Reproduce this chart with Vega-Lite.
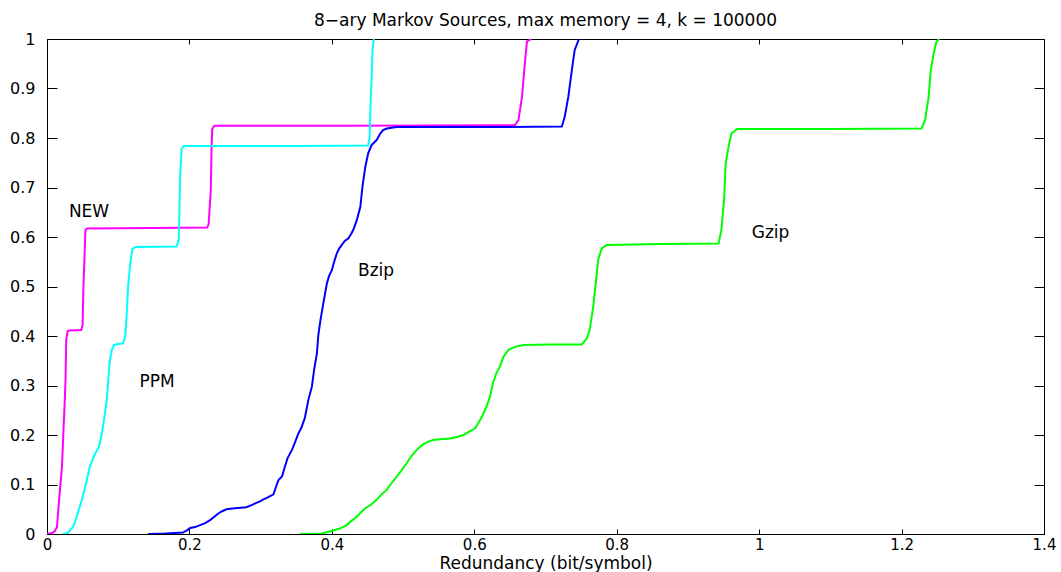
{
  "$schema": "https://vega.github.io/schema/vega-lite/v6.json",
  "autosize": {"type": "none"},
  "width": 997,
  "height": 495,
  "padding": {"left": 47, "top": 39, "right": 17, "bottom": 38},
  "background": "white",
  "title": {"text": "8−ary Markov Sources, max memory = 4, k = 100000", "font": "DejaVu Sans", "fontSize": 17, "fontWeight": "normal", "color": "black", "offset": 1},
  "config": {
    "view": {"stroke": "black", "strokeWidth": 1},
    "axis": {"domainColor": "black", "tickColor": "black", "labelFont": "DejaVu Sans", "labelFontSize": 16, "labelColor": "black", "titleFont": "DejaVu Sans", "titleFontSize": 17, "titleFontWeight": "normal", "titleColor": "black", "grid": false, "labelFlush": false, "labelOverlap": false},
    "axisX": {"tickSize": -5},
    "axisY": {"tickSize": -10}
  },
  "datasets": {
    "curves": [
      {"series": "NEW", "x": 0, "y": 0},
      {"series": "NEW", "x": 0.007, "y": 0.002},
      {"series": "NEW", "x": 0.011, "y": 0.006},
      {"series": "NEW", "x": 0.014, "y": 0.014},
      {"series": "NEW", "x": 0.017, "y": 0.069},
      {"series": "NEW", "x": 0.021, "y": 0.136},
      {"series": "NEW", "x": 0.023, "y": 0.204},
      {"series": "NEW", "x": 0.025, "y": 0.271},
      {"series": "NEW", "x": 0.026, "y": 0.311},
      {"series": "NEW", "x": 0.027, "y": 0.392},
      {"series": "NEW", "x": 0.029, "y": 0.41},
      {"series": "NEW", "x": 0.032, "y": 0.411},
      {"series": "NEW", "x": 0.048, "y": 0.412},
      {"series": "NEW", "x": 0.05, "y": 0.422},
      {"series": "NEW", "x": 0.051, "y": 0.493},
      {"series": "NEW", "x": 0.053, "y": 0.574},
      {"series": "NEW", "x": 0.054, "y": 0.614},
      {"series": "NEW", "x": 0.056, "y": 0.617},
      {"series": "NEW", "x": 0.145, "y": 0.618},
      {"series": "NEW", "x": 0.225, "y": 0.619},
      {"series": "NEW", "x": 0.227, "y": 0.626},
      {"series": "NEW", "x": 0.23, "y": 0.695},
      {"series": "NEW", "x": 0.231, "y": 0.776},
      {"series": "NEW", "x": 0.232, "y": 0.818},
      {"series": "NEW", "x": 0.235, "y": 0.825},
      {"series": "NEW", "x": 0.425, "y": 0.825},
      {"series": "NEW", "x": 0.657, "y": 0.826},
      {"series": "NEW", "x": 0.662, "y": 0.836},
      {"series": "NEW", "x": 0.667, "y": 0.883},
      {"series": "NEW", "x": 0.671, "y": 0.951},
      {"series": "NEW", "x": 0.674, "y": 0.995},
      {"series": "NEW", "x": 0.68, "y": 1.0},

      {"series": "PPM", "x": 0.022, "y": 0},
      {"series": "PPM", "x": 0.029, "y": 0.002},
      {"series": "PPM", "x": 0.037, "y": 0.015},
      {"series": "PPM", "x": 0.042, "y": 0.036},
      {"series": "PPM", "x": 0.049, "y": 0.069},
      {"series": "PPM", "x": 0.055, "y": 0.103},
      {"series": "PPM", "x": 0.06, "y": 0.136},
      {"series": "PPM", "x": 0.065, "y": 0.154},
      {"series": "PPM", "x": 0.069, "y": 0.166},
      {"series": "PPM", "x": 0.073, "y": 0.176},
      {"series": "PPM", "x": 0.077, "y": 0.203},
      {"series": "PPM", "x": 0.08, "y": 0.23},
      {"series": "PPM", "x": 0.084, "y": 0.271},
      {"series": "PPM", "x": 0.086, "y": 0.311},
      {"series": "PPM", "x": 0.088, "y": 0.347},
      {"series": "PPM", "x": 0.091, "y": 0.372},
      {"series": "PPM", "x": 0.094, "y": 0.382},
      {"series": "PPM", "x": 0.1, "y": 0.384},
      {"series": "PPM", "x": 0.107, "y": 0.385},
      {"series": "PPM", "x": 0.11, "y": 0.402},
      {"series": "PPM", "x": 0.112, "y": 0.446},
      {"series": "PPM", "x": 0.114, "y": 0.503},
      {"series": "PPM", "x": 0.117, "y": 0.547},
      {"series": "PPM", "x": 0.12, "y": 0.576},
      {"series": "PPM", "x": 0.125, "y": 0.58},
      {"series": "PPM", "x": 0.182, "y": 0.581},
      {"series": "PPM", "x": 0.185, "y": 0.594},
      {"series": "PPM", "x": 0.186, "y": 0.655},
      {"series": "PPM", "x": 0.187, "y": 0.725},
      {"series": "PPM", "x": 0.189, "y": 0.778},
      {"series": "PPM", "x": 0.192, "y": 0.784},
      {"series": "PPM", "x": 0.355, "y": 0.784},
      {"series": "PPM", "x": 0.451, "y": 0.785},
      {"series": "PPM", "x": 0.453, "y": 0.8},
      {"series": "PPM", "x": 0.454, "y": 0.857},
      {"series": "PPM", "x": 0.456, "y": 0.927},
      {"series": "PPM", "x": 0.457, "y": 0.978},
      {"series": "PPM", "x": 0.459, "y": 1.0},

      {"series": "Bzip", "x": 0.142, "y": 0},
      {"series": "Bzip", "x": 0.166, "y": 0.001},
      {"series": "Bzip", "x": 0.191, "y": 0.003},
      {"series": "Bzip", "x": 0.197, "y": 0.008},
      {"series": "Bzip", "x": 0.201, "y": 0.012},
      {"series": "Bzip", "x": 0.208, "y": 0.014},
      {"series": "Bzip", "x": 0.215, "y": 0.018},
      {"series": "Bzip", "x": 0.222, "y": 0.022},
      {"series": "Bzip", "x": 0.229, "y": 0.028},
      {"series": "Bzip", "x": 0.234, "y": 0.034},
      {"series": "Bzip", "x": 0.241, "y": 0.042},
      {"series": "Bzip", "x": 0.246, "y": 0.046},
      {"series": "Bzip", "x": 0.252, "y": 0.05},
      {"series": "Bzip", "x": 0.264, "y": 0.052},
      {"series": "Bzip", "x": 0.28, "y": 0.054},
      {"series": "Bzip", "x": 0.288, "y": 0.059},
      {"series": "Bzip", "x": 0.294, "y": 0.063},
      {"series": "Bzip", "x": 0.299, "y": 0.066},
      {"series": "Bzip", "x": 0.304, "y": 0.07},
      {"series": "Bzip", "x": 0.31, "y": 0.074},
      {"series": "Bzip", "x": 0.318, "y": 0.08},
      {"series": "Bzip", "x": 0.321, "y": 0.093},
      {"series": "Bzip", "x": 0.325, "y": 0.109},
      {"series": "Bzip", "x": 0.33, "y": 0.116},
      {"series": "Bzip", "x": 0.334, "y": 0.136},
      {"series": "Bzip", "x": 0.338, "y": 0.154},
      {"series": "Bzip", "x": 0.344, "y": 0.17},
      {"series": "Bzip", "x": 0.348, "y": 0.184},
      {"series": "Bzip", "x": 0.353, "y": 0.203},
      {"series": "Bzip", "x": 0.357, "y": 0.214},
      {"series": "Bzip", "x": 0.362, "y": 0.234},
      {"series": "Bzip", "x": 0.367, "y": 0.271},
      {"series": "Bzip", "x": 0.372, "y": 0.298},
      {"series": "Bzip", "x": 0.375, "y": 0.331},
      {"series": "Bzip", "x": 0.379, "y": 0.365},
      {"series": "Bzip", "x": 0.381, "y": 0.402},
      {"series": "Bzip", "x": 0.384, "y": 0.432},
      {"series": "Bzip", "x": 0.388, "y": 0.466},
      {"series": "Bzip", "x": 0.393, "y": 0.506},
      {"series": "Bzip", "x": 0.396, "y": 0.521},
      {"series": "Bzip", "x": 0.4, "y": 0.533},
      {"series": "Bzip", "x": 0.403, "y": 0.549},
      {"series": "Bzip", "x": 0.407, "y": 0.567},
      {"series": "Bzip", "x": 0.41, "y": 0.576},
      {"series": "Bzip", "x": 0.414, "y": 0.584},
      {"series": "Bzip", "x": 0.418, "y": 0.592},
      {"series": "Bzip", "x": 0.423, "y": 0.597},
      {"series": "Bzip", "x": 0.427, "y": 0.606},
      {"series": "Bzip", "x": 0.43, "y": 0.614},
      {"series": "Bzip", "x": 0.435, "y": 0.634},
      {"series": "Bzip", "x": 0.44, "y": 0.661},
      {"series": "Bzip", "x": 0.443, "y": 0.702},
      {"series": "Bzip", "x": 0.447, "y": 0.742},
      {"series": "Bzip", "x": 0.451, "y": 0.769},
      {"series": "Bzip", "x": 0.456, "y": 0.786},
      {"series": "Bzip", "x": 0.463, "y": 0.796},
      {"series": "Bzip", "x": 0.468, "y": 0.809},
      {"series": "Bzip", "x": 0.472, "y": 0.816},
      {"series": "Bzip", "x": 0.477, "y": 0.819},
      {"series": "Bzip", "x": 0.491, "y": 0.822},
      {"series": "Bzip", "x": 0.608, "y": 0.822},
      {"series": "Bzip", "x": 0.723, "y": 0.823},
      {"series": "Bzip", "x": 0.727, "y": 0.843},
      {"series": "Bzip", "x": 0.732, "y": 0.883},
      {"series": "Bzip", "x": 0.737, "y": 0.937},
      {"series": "Bzip", "x": 0.741, "y": 0.978},
      {"series": "Bzip", "x": 0.747, "y": 1.0},

      {"series": "Gzip", "x": 0.355, "y": 0},
      {"series": "Gzip", "x": 0.386, "y": 0.001},
      {"series": "Gzip", "x": 0.402, "y": 0.007},
      {"series": "Gzip", "x": 0.411, "y": 0.011},
      {"series": "Gzip", "x": 0.421, "y": 0.018},
      {"series": "Gzip", "x": 0.427, "y": 0.026},
      {"series": "Gzip", "x": 0.435, "y": 0.035},
      {"series": "Gzip", "x": 0.441, "y": 0.044},
      {"series": "Gzip", "x": 0.447, "y": 0.052},
      {"series": "Gzip", "x": 0.455, "y": 0.059},
      {"series": "Gzip", "x": 0.463, "y": 0.069},
      {"series": "Gzip", "x": 0.469, "y": 0.079},
      {"series": "Gzip", "x": 0.477, "y": 0.089},
      {"series": "Gzip", "x": 0.483, "y": 0.101},
      {"series": "Gzip", "x": 0.491, "y": 0.116},
      {"series": "Gzip", "x": 0.497, "y": 0.127},
      {"series": "Gzip", "x": 0.505, "y": 0.143},
      {"series": "Gzip", "x": 0.511, "y": 0.156},
      {"series": "Gzip", "x": 0.519, "y": 0.17},
      {"series": "Gzip", "x": 0.528, "y": 0.181},
      {"series": "Gzip", "x": 0.535, "y": 0.186},
      {"series": "Gzip", "x": 0.542, "y": 0.19},
      {"series": "Gzip", "x": 0.555, "y": 0.192},
      {"series": "Gzip", "x": 0.566, "y": 0.193},
      {"series": "Gzip", "x": 0.576, "y": 0.196},
      {"series": "Gzip", "x": 0.585, "y": 0.2},
      {"series": "Gzip", "x": 0.594, "y": 0.208},
      {"series": "Gzip", "x": 0.601, "y": 0.213},
      {"series": "Gzip", "x": 0.608, "y": 0.23},
      {"series": "Gzip", "x": 0.613, "y": 0.244},
      {"series": "Gzip", "x": 0.617, "y": 0.257},
      {"series": "Gzip", "x": 0.622, "y": 0.277},
      {"series": "Gzip", "x": 0.626, "y": 0.304},
      {"series": "Gzip", "x": 0.631, "y": 0.325},
      {"series": "Gzip", "x": 0.636, "y": 0.338},
      {"series": "Gzip", "x": 0.641, "y": 0.358},
      {"series": "Gzip", "x": 0.648, "y": 0.372},
      {"series": "Gzip", "x": 0.657, "y": 0.378},
      {"series": "Gzip", "x": 0.669, "y": 0.382},
      {"series": "Gzip", "x": 0.706, "y": 0.383},
      {"series": "Gzip", "x": 0.751, "y": 0.383},
      {"series": "Gzip", "x": 0.758, "y": 0.395},
      {"series": "Gzip", "x": 0.762, "y": 0.412},
      {"series": "Gzip", "x": 0.767, "y": 0.459},
      {"series": "Gzip", "x": 0.771, "y": 0.513},
      {"series": "Gzip", "x": 0.774, "y": 0.554},
      {"series": "Gzip", "x": 0.779, "y": 0.577},
      {"series": "Gzip", "x": 0.786, "y": 0.584},
      {"series": "Gzip", "x": 0.861, "y": 0.586},
      {"series": "Gzip", "x": 0.943, "y": 0.587},
      {"series": "Gzip", "x": 0.947, "y": 0.614},
      {"series": "Gzip", "x": 0.951, "y": 0.681},
      {"series": "Gzip", "x": 0.953, "y": 0.749},
      {"series": "Gzip", "x": 0.957, "y": 0.782},
      {"series": "Gzip", "x": 0.961, "y": 0.809},
      {"series": "Gzip", "x": 0.969, "y": 0.818},
      {"series": "Gzip", "x": 1.1, "y": 0.818},
      {"series": "Gzip", "x": 1.228, "y": 0.819},
      {"series": "Gzip", "x": 1.233, "y": 0.836},
      {"series": "Gzip", "x": 1.238, "y": 0.883},
      {"series": "Gzip", "x": 1.241, "y": 0.937},
      {"series": "Gzip", "x": 1.245, "y": 0.97},
      {"series": "Gzip", "x": 1.249, "y": 0.995},
      {"series": "Gzip", "x": 1.253, "y": 1.0}
    ],
    "labels": [
      {"label": "NEW", "x": 0.059, "y": 0.6495},
      {"label": "PPM", "x": 0.1545, "y": 0.307},
      {"label": "Bzip", "x": 0.462, "y": 0.531},
      {"label": "Gzip", "x": 1.016, "y": 0.609}
    ]
  },
  "layer": [
    {
      "data": {"name": "curves"},
      "mark": {"type": "line", "strokeWidth": 2, "clip": true},
      "encoding": {
        "x": {"field": "x", "type": "quantitative", "scale": {"domain": [0, 1.4], "nice": false, "zero": false},
              "axis": {"orient": "bottom", "values": [0, 0.2, 0.4, 0.6, 0.8, 1, 1.2, 1.4], "format": "~g", "title": "Redundancy (bit/symbol)", "labelFontSize": 15, "labelPadding": 8, "titleBaseline": "top", "titleY": 21}},
        "y": {"field": "y", "type": "quantitative", "scale": {"domain": [0, 1], "nice": false, "zero": false},
              "axis": {"orient": "left", "values": [0, 0.1, 0.2, 0.3, 0.4, 0.5, 0.6, 0.7, 0.8, 0.9, 1], "format": "~g", "title": null, "labelPadding": 22}},
        "color": {"field": "series", "type": "nominal", "scale": {"domain": ["NEW", "PPM", "Bzip", "Gzip"], "range": ["#ff00ff", "#00ffff", "#0000ff", "#00ff00"]}, "legend": null}
      }
    },
    {
      "data": {"name": "labels"},
      "mark": {"type": "text", "font": "DejaVu Sans", "fontSize": 17, "color": "black", "align": "center", "baseline": "middle"},
      "encoding": {
        "x": {"field": "x", "type": "quantitative", "scale": {"domain": [0, 1.4], "nice": false, "zero": false},
              "axis": {"orient": "top", "values": [0, 0.2, 0.4, 0.6, 0.8, 1, 1.2, 1.4], "labels": false, "title": null}},
        "y": {"field": "y", "type": "quantitative", "scale": {"domain": [0, 1], "nice": false, "zero": false},
              "axis": {"orient": "right", "values": [0, 0.1, 0.2, 0.3, 0.4, 0.5, 0.6, 0.7, 0.8, 0.9, 1], "labels": false, "title": null}},
        "text": {"field": "label"}
      }
    }
  ],
  "resolve": {"axis": {"x": "independent", "y": "independent"}}
}
